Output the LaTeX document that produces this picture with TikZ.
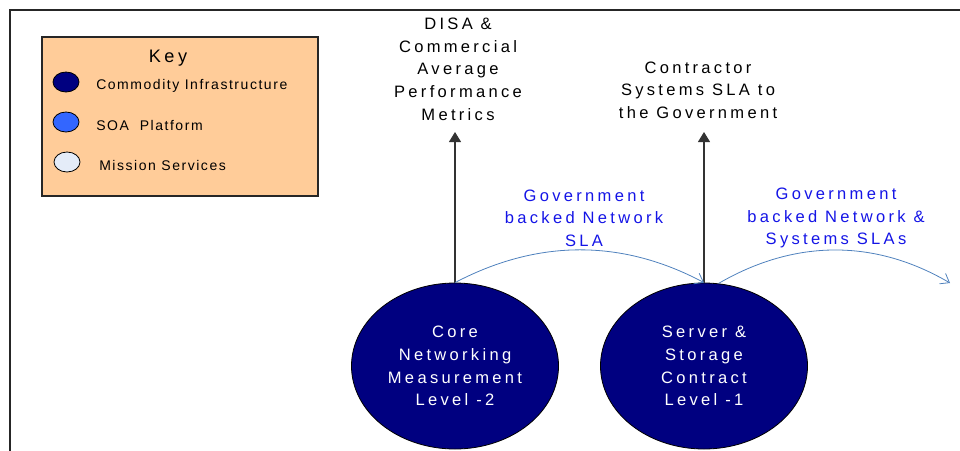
\documentclass[tikz,border=0pt]{standalone}
\usepackage{fontspec}
\setmainfont{Liberation Sans}
\newfontfamily\widefont[LetterSpace=20]{Liberation Sans}
\newfontfamily\keyfont[LetterSpace=11]{Liberation Sans}
\usetikzlibrary{arrows.meta,shapes.geometric}

\definecolor{navy}{RGB}{0,0,128}
\definecolor{soablue}{RGB}{51,102,255}
\definecolor{missionblue}{RGB}{228,236,248}
\definecolor{peach}{RGB}{255,204,153}
\definecolor{slablue}{RGB}{79,129,189}
\definecolor{slatext}{RGB}{20,20,230}

\tikzset{
  frame/.style={line width=1.6pt, draw=black!85},
  keybox/.style={draw=black!85, line width=0.9pt, fill=peach, rectangle,
    minimum width=207pt, minimum height=119.25pt, inner sep=0pt},
  keytitle/.style={font=\widefont\fontsize{13.6}{16}\selectfont},
  keydot/.style={ellipse, draw=black, line width=0.6pt, minimum width=19.5pt,
    minimum height=15pt, inner sep=0pt},
  keylabel/.style={anchor=west, inner sep=0pt, font=\keyfont\fontsize{10.5}{12}\selectfont},
  level/.style={ellipse, draw=black, line width=0.6pt, fill=navy, text=white,
    minimum width=155.25pt, minimum height=124.5pt, inner sep=0pt, align=center,
    font=\widefont\fontsize{12.4}{17}\selectfont},
  metric/.style={align=center, inner sep=0pt, font=\widefont\fontsize{12.4}{17}\selectfont},
  sla/.style={metric, text=slatext},
  report/.style={draw=black!80, line width=0.8pt, -{Triangle[length=7.5pt,width=9pt]}},
  handoff/.style={draw=slablue, line width=0.6pt, -{Straight Barb[length=6pt,width=9pt]}}
}

\begin{document}
\begin{tikzpicture}[x=0.75pt, y=-0.75pt]
\useasboundingbox (0,0) rectangle (960,450);
\clip (0,0) rectangle (960,450);

% outer frame, running past the right and bottom edges
\draw[frame] (10,480) -- (10,10) -- (990,10);

% key
\node[keybox] (key) at (180,116.5) {};
\node[keytitle] (keyhead) at (168,58) {Key};
\node[keydot, fill=navy] (k1) at (66,82) {};
\node[keydot, fill=soablue] (k2) at (66,122) {};
\node[keydot, fill=missionblue] (k3) at (67,162) {};
\node[keylabel] (k1l) at (96,86) {Commodity Infrastructure};
\node[keylabel] (k2l) at (96,125) {SOA\ \ Platform};
\node[keylabel] (k3l) at (99,165) {Mission Services};

% measurement levels
\node[level] (core) at (455,366) {Core\\Networking\\Measurement\\Level -2};
\node[level] (server) at (704,366) {Server \&\\Storage\\Contract\\Level -1};

% reported metrics
\node[metric] (disa) at (458,69) {DISA \&\\Commercial\\Average\\Performance\\Metrics};
\node[metric] (contractor) at (698,90) {Contractor\\Systems SLA to\\the Government};
\coordinate (disatip) at (455,132);
\coordinate (contip) at (704,132);
\draw[report] (core.north) -- (disatip);
\draw[report] (server.north) -- (contip);

% SLA hand-offs
\node[sla] (sla1) at (584,218) {Government\\backed Network\\SLA};
\node[sla] (sla2) at (836,218) {Government\\backed Network \&\\Systems SLAs};
\coordinate (beyond) at (950,283);
\draw[handoff] (core.north) .. controls (538,239) and (622,239) .. (server.north);
\draw[handoff] (server.80) .. controls (795,239) and (875,239) .. (beyond);
\end{tikzpicture}
\end{document}
